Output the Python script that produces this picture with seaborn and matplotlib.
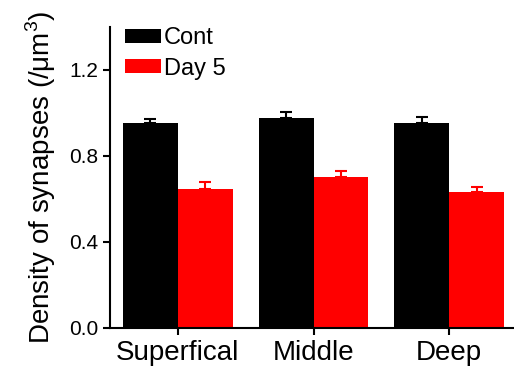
import matplotlib
matplotlib.use("Agg")
import matplotlib.pyplot as plt
import seaborn as sns
import pandas as pd

categories = ["Superfical", "Middle", "Deep"]
groups = ["Cont", "Day 5"]
cont_values = [0.955, 0.978, 0.952]
cont_err = [0.017, 0.028, 0.031]
day5_values = [0.648, 0.704, 0.631]
day5_err = [0.030, 0.026, 0.025]

df = pd.DataFrame({
    "layer": categories * 2,
    "group": [groups[0]] * 3 + [groups[1]] * 3,
    "density": cont_values + day5_values,
})

sns.set_style("ticks")
plt.rcParams['font.family'] = ['Liberation Sans', 'DejaVu Sans']
plt.rcParams['mathtext.fontset'] = 'custom'
plt.rcParams['mathtext.rm'] = 'Liberation Sans'
for k in ["text.color", "axes.labelcolor", "xtick.color", "ytick.color", "axes.edgecolor"]:
    plt.rcParams[k] = "black"

fig = plt.figure(figsize=(5.14, 3.68), dpi=100)
ax = fig.add_axes([0.214, 0.109, 0.792, 0.818])

sns.barplot(data=df, x="layer", y="density", hue="group", order=categories,
            hue_order=groups, palette=["#000000", "#ff0000"], errorbar=None,
            width=0.81, saturation=1, ax=ax, edgecolor="none")

for cont, errs, color in zip(ax.containers, [cont_err, day5_err], ["black", "red"]):
    xs = [p.get_x() + p.get_width() / 2 for p in cont]
    ys = [p.get_height() for p in cont]
    ax.errorbar(xs, ys, yerr=[[0] * len(errs), errs], fmt="none", ecolor=color,
                elinewidth=1.5, capsize=4, capthick=1.5)

ax.set_ylim(0, 1.4)
ax.set_xlim(-0.5, 2.5)
ax.set_yticks([0.0, 0.4, 0.8, 1.2])
ax.set_yticklabels(["0.0", "0.4", "0.8", "1.2"])
ax.set_xlabel("")
ax.set_ylabel("Density of synapses (/μm$^3$)", fontsize=20, labelpad=8)
ax.tick_params(axis="y", labelsize=15, width=1.5, length=5, direction="out")
ax.tick_params(axis="x", labelsize=20, width=1.5, length=5, direction="out")
sns.despine(ax=ax)
for s in ["left", "bottom"]:
    ax.spines[s].set_linewidth(1.5)

leg = ax.legend(loc="upper left", frameon=False, fontsize=17, handlelength=1.5,
                handleheight=0.5, handletextpad=0.15, labelspacing=0.35,
                borderaxespad=0.0, bbox_to_anchor=(0.014, 1.03))

fig.savefig("out.png", dpi=100)
